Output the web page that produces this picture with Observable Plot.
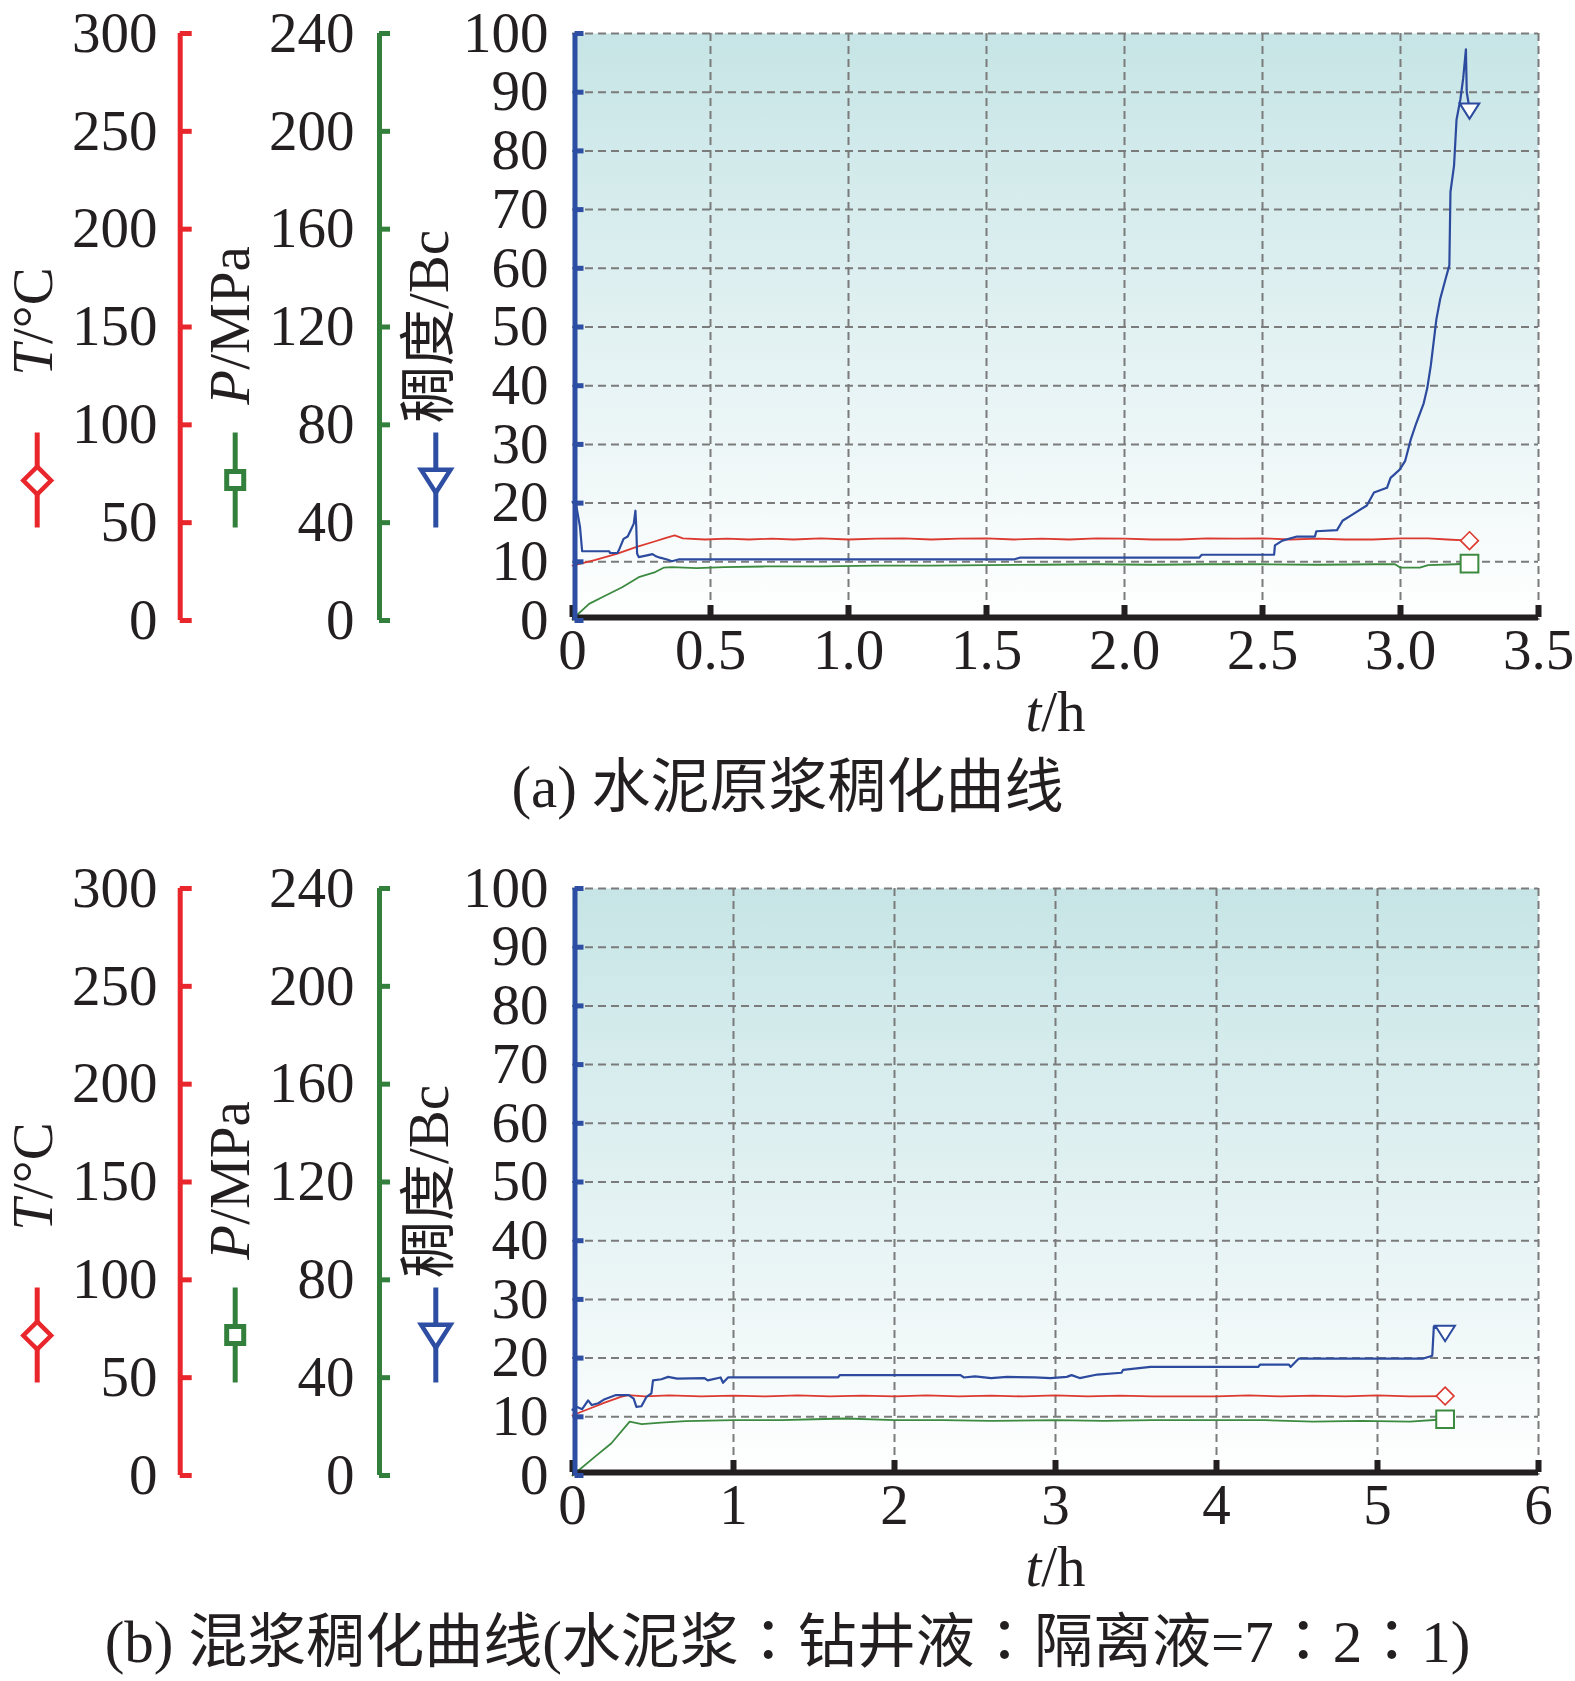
<!DOCTYPE html>
<html>
<head>
<meta charset="utf-8">
<script src="https://cdn.jsdelivr.net/npm/d3@7"></script>
<script src="https://cdn.jsdelivr.net/npm/@observablehq/plot@0.6"></script>
<style>
  body { margin: 0; background: #ffffff; }
  #wrap { position: relative; width: 1575px; height: 1681px; overflow: hidden; }
  #wrap svg { position: absolute; left: 0; }
  .cap { position: absolute; left: 0; width: 1575px; text-align: center; white-space: pre;
         font-family: "Liberation Serif", "Noto Sans CJK SC", serif; font-size: 59px; line-height: 59px; color: #231f20; }
  .cap .colon { font-family: "Noto Sans CJK TC", "Noto Sans CJK JP", sans-serif; }
</style>
</head>
<body>
<div id="wrap"></div>
<script>
// ---------- data ----------
const bcTicks   = [0, 10, 20, 30, 40, 50, 60, 70, 80, 90, 100];   // 稠度/Bc
const tempTicks = [0, 50, 100, 150, 200, 250, 300];               // T/°C
const presTicks = [0, 40, 80, 120, 160, 200, 240];                // P/MPa
const aTimeTicks = [0, 0.5, 1.0, 1.5, 2.0, 2.5, 3.0, 3.5];
const bTimeTicks = [0, 1, 2, 3, 4, 5, 6];
const legendLabels = ["T/°C", "P/MPa", "稠度/Bc"];
const xLabel = "t/h";
const captionA = "(a) 水泥原浆稠化曲线";
const captionB = "(b) 混浆稠化曲线(水泥浆：钻井液：隔离液=7：2：1)";

// (a) neat cement slurry
const aTempTime = [0, 0.08, 0.16, 0.23, 0.30, 0.33, 0.37, 0.40, 0.48, 0.56, 0.64, 0.72, 0.80, 0.90, 1.00, 1.10, 1.20, 1.30, 1.40, 1.50, 1.60, 1.70, 1.80, 1.90, 2.00, 2.10, 2.20, 2.30, 2.40, 2.50, 2.60, 2.70, 2.80, 2.90, 3.00, 3.10, 3.17, 3.25];
const aTempVal  = [28.1, 30.8, 34.0, 37.5, 40.5, 41.8, 43.5, 42.0, 41.4, 41.8, 41.4, 41.8, 41.4, 42.0, 41.4, 41.8, 42.0, 41.4, 41.8, 42.0, 41.4, 41.8, 41.4, 42.0, 41.8, 41.4, 41.4, 42.0, 41.8, 42.0, 41.4, 41.8, 41.4, 41.4, 42.0, 42.0, 41.4, 40.8];
const aPresTime = [0, 0.06, 0.12, 0.18, 0.24, 0.30, 0.33, 0.36, 0.45, 0.55, 0.70, 0.90, 1.10, 1.30, 1.50, 1.70, 1.90, 2.10, 2.30, 2.50, 2.70, 2.90, 2.98, 3.00, 3.07, 3.10, 3.20, 3.25];
const aPresVal  = [0.5, 6.8, 10.2, 13.6, 17.7, 19.8, 21.6, 21.8, 21.4, 21.8, 22.1, 22.1, 22.4, 22.4, 22.6, 22.8, 23.0, 22.8, 23.0, 23.0, 22.8, 23.0, 23.0, 21.6, 21.6, 22.6, 23.0, 23.3];
const aBcTime = [0, 0.012, 0.027, 0.035, 0.133, 0.136, 0.163, 0.17, 0.185, 0.2, 0.21, 0.222, 0.228, 0.231, 0.234, 0.24, 0.27, 0.29, 0.30, 0.317, 0.343, 0.36, 0.384, 1.6, 1.62, 2.27, 2.28, 2.542, 2.545, 2.572, 2.625, 2.69, 2.695, 2.77, 2.79, 2.824, 2.878, 2.904, 2.951, 2.964, 2.997, 3.017, 3.037, 3.057, 3.084, 3.097, 3.110, 3.130, 3.144, 3.164, 3.177, 3.181, 3.194, 3.203, 3.217, 3.227, 3.237, 3.240, 3.25];
const aBcVal  = [20.2, 20.0, 16.0, 11.8, 11.8, 11.5, 11.5, 12.2, 13.9, 14.3, 15.3, 16.5, 18.7, 16.0, 11.4, 10.8, 11.1, 11.3, 11.0, 10.7, 10.4, 10.1, 10.4, 10.4, 10.7, 10.7, 11.2, 11.2, 12.8, 13.6, 14.3, 14.3, 15.2, 15.4, 17.0, 18.0, 19.6, 21.8, 22.6, 24.3, 25.7, 27.2, 30.8, 33.6, 37.0, 39.6, 43.5, 51.3, 54.8, 58.3, 60.5, 73.0, 77.5, 85.3, 88.8, 92.3, 97.3, 90.0, 87.2];

// (b) mixed slurry
const bTempTime = [0, 0.1, 0.2, 0.3, 0.345, 0.45, 0.6, 0.8, 1.0, 1.2, 1.4, 1.6, 1.8, 2.0, 2.2, 2.4, 2.6, 2.8, 3.0, 3.2, 3.4, 3.6, 3.8, 4.0, 4.2, 4.4, 4.6, 4.8, 5.0, 5.2, 5.42];
const bTempVal  = [30.8, 34.0, 37.2, 40.2, 41.1, 40.4, 41.0, 40.4, 40.8, 40.4, 41.0, 40.4, 40.8, 40.4, 41.0, 40.4, 40.8, 40.4, 41.0, 40.4, 40.8, 40.4, 40.4, 40.4, 41.0, 40.4, 40.8, 40.4, 41.0, 40.4, 40.6];
const bPresTime = [0, 0.14, 0.24, 0.355, 0.43, 0.55, 0.7, 1.0, 1.3, 1.5, 1.7, 2.0, 2.3, 2.6, 3.0, 3.3, 3.6, 4.0, 4.3, 4.6, 4.9, 5.2, 5.42];
const bPresVal  = [0, 7.7, 13.1, 22.0, 21.0, 21.6, 22.2, 22.6, 22.6, 23.0, 23.3, 22.6, 22.6, 22.3, 22.6, 22.3, 22.6, 22.6, 22.6, 22.0, 22.3, 22.0, 23.0];
const bBcTime = [0, 0.025, 0.06, 0.097, 0.12, 0.16, 0.2, 0.27, 0.35, 0.38, 0.397, 0.428, 0.46, 0.49, 0.5, 0.552, 0.594, 0.65, 0.82, 0.84, 0.92, 0.935, 0.966, 1.65, 1.66, 2.41, 2.43, 2.5, 2.6, 2.7, 2.87, 2.97, 3.07, 3.1, 3.15, 3.26, 3.41, 3.42, 3.59, 4.26, 4.27, 4.45, 4.46, 4.51, 5.28, 5.34, 5.35, 5.42];
const bBcVal  = [11.2, 11.7, 11.3, 12.8, 12.0, 12.3, 13.0, 13.7, 13.7, 13.1, 11.7, 11.8, 13.4, 14.0, 16.2, 16.4, 16.8, 16.5, 16.6, 16.2, 16.7, 15.8, 16.7, 16.7, 17.1, 17.1, 16.7, 16.9, 16.6, 16.8, 16.7, 16.6, 16.8, 17.1, 16.6, 17.2, 17.5, 18.0, 18.5, 18.5, 18.9, 18.9, 18.5, 19.9, 19.9, 20.4, 25.4, 24.6];

// ---------- style ----------
const T_PER_BC = 3;    // 0–300 °C shares the 0–100 Bc height
const P_PER_BC = 2.4;  // 0–240 MPa shares the 0–100 Bc height
const FONT = '"Liberation Serif", "Noto Sans CJK SC", serif';
const RED = "#e8262c", GREEN = "#33803c", BLUE = "#2d4ea2", INK = "#231f20", GRIDC = "#7b7b7b";
const LRED = "#dc3a30", LGREEN = "#3c8a40", LBLUE = "#2c4b9e";

const stem = { draw(ctx, l) { ctx.moveTo(0, 0); ctx.lineTo(0, -l); } };
const triDown = { draw(ctx, size) {
  const r = Math.sqrt(size / Math.PI);
  ctx.moveTo(-1.4 * r, -0.75 * r); ctx.lineTo(1.4 * r, -0.75 * r); ctx.lineTo(0, 1.45 * r); ctx.closePath();
} };

function drawChart(cfg) {
  const H = 745, TOP = 33, BOTTOM = 620, LEFT = 572, RIGHT = 37;
  const temp = cfg.tempTime.map((t, i) => ({t, y: cfg.tempVal[i] / T_PER_BC}));
  const pres = cfg.presTime.map((t, i) => ({t, y: cfg.presVal[i] / P_PER_BC}));
  const bc = cfg.bcTime.map((t, i) => ({t, y: cfg.bcVal[i]}));
  const last = a => [a[a.length - 1]];
  const grid = {stroke: GRIDC, strokeOpacity: 1, strokeWidth: 2, strokeDasharray: "8,5"};
  const RED_DX = 179.7 - LEFT, GREEN_DX = 379 - LEFT;
  const leg = (x, y) => ({frameAnchor: "top-left", dx: x - LEFT, dy: y - TOP});

  const svg = Plot.plot({
    width: 1575, height: H,
    marginLeft: LEFT, marginRight: RIGHT, marginTop: TOP, marginBottom: H - BOTTOM,
    x: {domain: [0, cfg.xMax], axis: null},
    y: {domain: [0, 100], axis: null},
    style: {fontFamily: FONT, fontSize: "57px", color: INK, background: "transparent", overflow: "visible"},
    marks: [
      Plot.frame({fill: `url(#${cfg.id}-bg)`, stroke: "none"}),
      Plot.gridY(bcTicks.filter(d => d > 0), grid),
      Plot.gridX(cfg.xTicks.filter(d => d > 0), grid),

      // temperature axis (red)
      Plot.ruleX([0], {dx: RED_DX, stroke: RED, strokeWidth: 5}),
      Plot.axisY(tempTicks.map(d => d / T_PER_BC), {anchor: "left", dx: RED_DX, tickSize: -12, tickPadding: 34.7,
        stroke: RED, strokeWidth: 5, fill: INK, tickFormat: d => String(Math.round(d * T_PER_BC)), label: null}),
      // pressure axis (green)
      Plot.ruleX([0], {dx: GREEN_DX, stroke: GREEN, strokeWidth: 5}),
      Plot.axisY(presTicks.map(d => d / P_PER_BC), {anchor: "left", dx: GREEN_DX, tickSize: -11, tickPadding: 36,
        stroke: GREEN, strokeWidth: 5, fill: INK, tickFormat: d => String(Math.round(d * P_PER_BC)), label: null}),

      // data
      Plot.line(pres, {x: "t", y: "y", stroke: LGREEN, strokeWidth: 1.8}),
      Plot.line(temp, {x: "t", y: "y", stroke: LRED, strokeWidth: 1.8}),
      Plot.line(bc, {x: "t", y: "y", stroke: LBLUE, strokeWidth: 2.2}),
      Plot.dot(last(temp), {x: "t", y: "y", symbol: "diamond2", r: 8, stroke: LRED, strokeWidth: 1.6, fill: "white"}),
      Plot.dot(last(pres), {x: "t", y: "y", symbol: "square", r: 10, stroke: LGREEN, strokeWidth: 2, fill: "white"}),
      Plot.dot(last(bc), {x: "t", y: "y", symbol: triDown, r: 7, stroke: LBLUE, strokeWidth: 2, fill: "white"}),

      // time axis (black) and consistency axis (blue)
      Plot.ruleY([0], {dy: -3, stroke: INK, strokeWidth: 6}),
      Plot.axisX(cfg.xTicks, {anchor: "bottom", dy: -3, tickSize: -12, tickPadding: 23, stroke: INK, strokeWidth: 6,
        fill: INK, tickFormat: cfg.fmt, label: null}),
      Plot.ruleX([0], {dx: 2.5, stroke: BLUE, strokeWidth: 5}),
      Plot.axisY(bcTicks, {anchor: "left", dx: 2.5, tickSize: -9, tickPadding: 35.5, stroke: BLUE, strokeWidth: 5,
        fill: INK, tickFormat: d => String(d), label: null}),

      Plot.text([xLabel], {frameAnchor: "bottom", dy: 110, lineAnchor: "bottom", textAnchor: "middle", fill: INK}),

      // legend keys
      Plot.vector([0], {...leg(36.7, 479.5), length: 95, anchor: "middle", shape: stem, stroke: RED, strokeWidth: 5, strokeLinecap: "butt", fill: "none"}),
      Plot.vector([0], {...leg(234.7, 479.5), length: 95, anchor: "middle", shape: stem, stroke: GREEN, strokeWidth: 5, strokeLinecap: "butt", fill: "none"}),
      Plot.vector([0], {...leg(435.3, 479.5), length: 95, anchor: "middle", shape: stem, stroke: BLUE, strokeWidth: 5, strokeLinecap: "butt", fill: "none"}),
      Plot.dot([0], {...leg(36.7, 480), symbol: "diamond2", r: 12.5, stroke: RED, strokeWidth: 4.5, fill: "white"}),
      Plot.dot([0], {...leg(234.7, 479.5), symbol: "square", r: 9.6, stroke: GREEN, strokeWidth: 5, fill: "white"}),
      Plot.dot([0], {...leg(435.3, 477), symbol: triDown, r: 10.5, stroke: BLUE, strokeWidth: 4.5, fill: "white"}),
      Plot.text([legendLabels[0]], {...leg(51.5, 321), rotate: -90, textAnchor: "middle", lineAnchor: "bottom", fill: INK}),
      Plot.text([legendLabels[1]], {...leg(248.5, 325), rotate: -90, textAnchor: "middle", lineAnchor: "bottom", fill: INK}),
      Plot.text([legendLabels[2]], {...leg(447.5, 326), rotate: -90, textAnchor: "middle", lineAnchor: "bottom", fill: INK})
    ]
  });

  const s = d3.select(svg);
  s.insert("defs", ":first-child").html(
    `<linearGradient id="${cfg.id}-bg" x1="0" y1="0" x2="0" y2="1">
       <stop offset="0" stop-color="#c7e5e6"/><stop offset="0.55" stop-color="#e4f2f3"/><stop offset="1" stop-color="#ffffff"/>
     </linearGradient>`);
  const italic = {"T/°C": ["T", "/°C"], "P/MPa": ["P", "/MPa"], "t/h": ["t", "/h"]};
  s.selectAll("text").each(function () {
    const parts = italic[this.textContent];
    if (parts) this.innerHTML = `<tspan font-style="italic">${parts[0]}</tspan>${parts[1]}`;
  });
  svg.style.top = cfg.top + "px";
  return svg;
}

const wrap = document.getElementById("wrap");
wrap.appendChild(drawChart({id: "a", top: 0, xMax: 3.5, xTicks: aTimeTicks, fmt: d => d === 0 ? "0" : d.toFixed(1),
  tempTime: aTempTime, tempVal: aTempVal, presTime: aPresTime, presVal: aPresVal, bcTime: aBcTime, bcVal: aBcVal}));
wrap.appendChild(drawChart({id: "b", top: 855, xMax: 6, xTicks: bTimeTicks, fmt: d => String(d),
  tempTime: bTempTime, tempVal: bTempVal, presTime: bPresTime, presVal: bPresVal, bcTime: bBcTime, bcVal: bBcVal}));

function caption(text, top) {
  const d = document.createElement("div");
  d.className = "cap"; d.style.top = top + "px";
  // full-width colons use a font whose "：" is centred, as in the reference
  text.split("：").forEach((part, i) => {
    if (i > 0) { const c = document.createElement("span"); c.className = "colon"; c.textContent = "："; d.appendChild(c); }
    d.appendChild(document.createTextNode(part));
  });
  wrap.appendChild(d);
}
caption(captionA, 758);
caption(captionB, 1607);
</script>
</body>
</html>
